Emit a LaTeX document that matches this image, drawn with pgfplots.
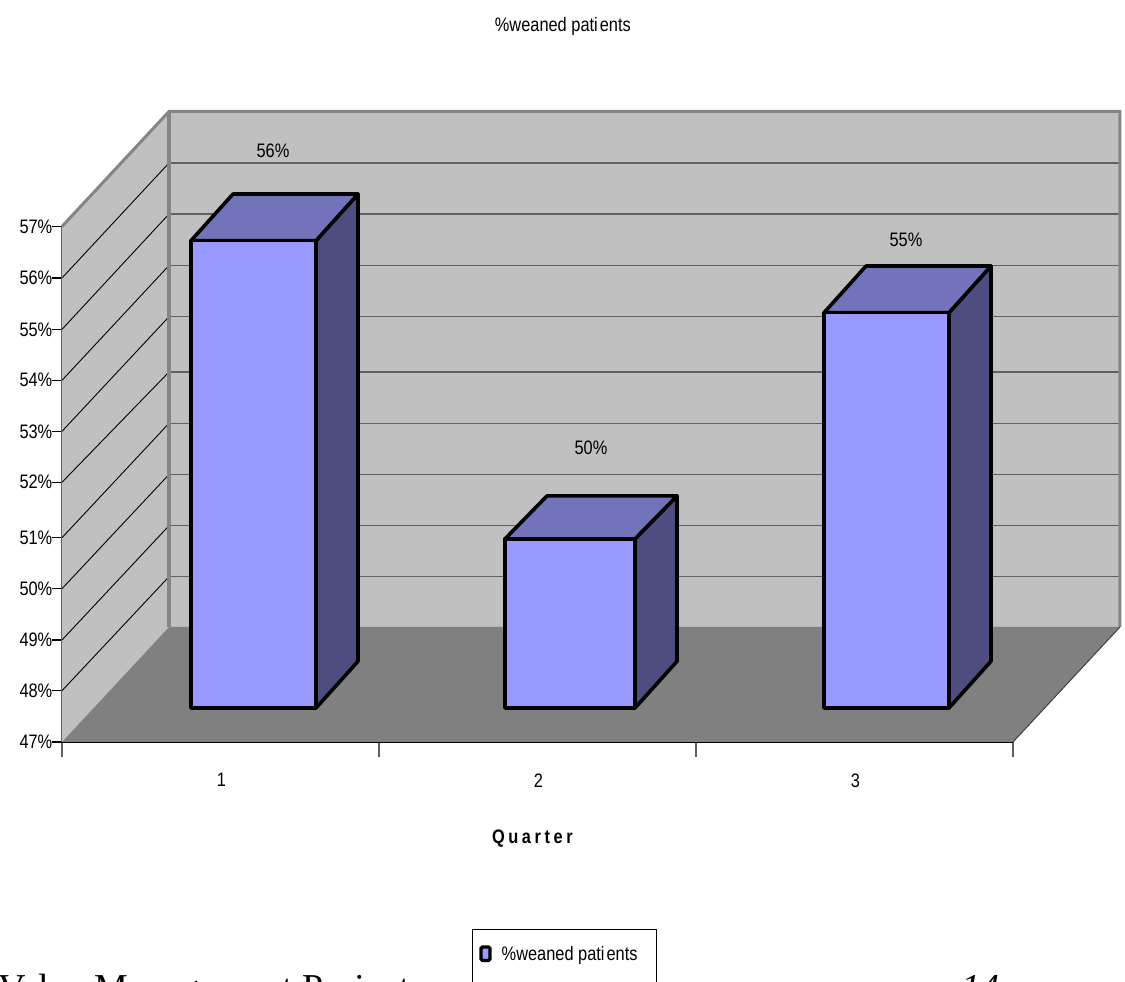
\documentclass[border=0pt]{standalone}
\usepackage{pgfplots}
\usepackage{fontspec}
\pgfplotsset{compat=1.18}
\newfontfamily\chartfont[FakeStretch=0.84]{Liberation Sans}
\newfontfamily\footfont{Liberation Serif}
\newcommand{\lab}{\chartfont\fontsize{19.5}{22}\selectfont}
\definecolor{wall}{HTML}{C0C0C0}
\definecolor{floorgrey}{HTML}{808080}
\definecolor{edgegrey}{HTML}{858585}
\definecolor{gridgrey}{HTML}{606060}
\definecolor{barfront}{HTML}{9999FF}
\definecolor{bartop}{HTML}{7373BB}
\definecolor{barside}{HTML}{4D4D80}
% depth of a column, in axis units
\newcommand{\depx}{0.1325}
\newcommand{\depy}{0.905}
% columns stand on this level in the front plane
\newcommand{\barbase}{47.66}
% one column: left edge, right edge, value, depth of its top face
\newcommand{\column}[4]{%
  \pgfmathsetmacro\ytop{#3+\barbase-47}%
  \pgfmathsetmacro\xla{#1+\depx}%
  \pgfmathsetmacro\xra{#2+\depx}%
  \pgfmathsetmacro\ytopb{\ytop+#4}%
  \pgfmathsetmacro\ybotb{\barbase+\depy}%
  \addplot[forget plot,fill=barside,draw=black,line width=3.6pt,line join=round]
    coordinates {(#2,\barbase)(\xra,\ybotb)(\xra,\ytopb)(#2,\ytop)} --cycle;
  \addplot[forget plot,fill=bartop,draw=black,line width=3.6pt,line join=round]
    coordinates {(#1,\ytop)(\xla,\ytopb)(\xra,\ytopb)(#2,\ytop)} --cycle;
  \addplot[forget plot,fill=barfront,draw=black,line width=3.6pt,line join=round]
    coordinates {(#1,\barbase)(#1,\ytop)(#2,\ytop)(#2,\barbase)} --cycle;
}
% one level of the scale: height at the front edge, height on the back wall
\newcommand{\level}[2]{%
  \addplot[forget plot,draw=gridgrey,line width=1.5pt] coordinates {(0.8375,#2)(3.8375,#2)};
  \addplot[forget plot,draw=black,line width=0.9pt] coordinates {(0.5,#1)(0.8375,#2)};
}
\begin{document}
\begin{tikzpicture}[x=1pt,y=1pt]
\clip[use as bounding box] (0,0) rectangle (1125,982);
\begin{axis}[
  at={(62pt,240pt)},anchor=south west,
  scale only axis,width=951pt,height=515.5pt,
  xmin=0.5,xmax=3.5,ymin=47,ymax=57,
  clip=false,
  axis x line=bottom,axis y line=left,
  axis line style={-,line width=1.3pt},
  x axis line style={draw=black},
  y axis line style={draw=gridgrey,line width=2.4pt},
  tick align=outside,
  xtick={1,2,3},xticklabels={1,2,3},
  minor xtick={0.5,1.5,2.5,3.5},
  major x tick style={draw=none},
  minor x tick style={draw=gridgrey,line width=1.5pt},
  minor tick length=15pt,
  major tick length=10pt,
  ytick={47,47.995,48.979,49.974,50.963,52.038,53.027,54.016,55.005,56.001,57},
  yticklabels={47\%,48\%,49\%,50\%,51\%,52\%,53\%,54\%,55\%,56\%,57\%},
  y tick style={draw=black,line width=1.2pt},
  tick label style={font=\lab},
  y tick label style={inner xsep=0.5pt,xshift=1pt},
  x tick label style={yshift=-18pt,xshift=1pt},
  title={\%weaned pati\kern2pt ents},
  title style={at={(axis cs:2.08,60.657)},anchor=base,font=\lab,inner sep=0pt},
  xlabel={\bfseries Q\kern3.6pt u\kern3.6pt a\kern3.6pt r\kern3.6pt t\kern3.6pt e\kern3.6pt r},
  xlabel style={at={(axis cs:1.984,45.12)},anchor=center,font=\lab,inner sep=0pt},
  legend style={at={(axis cs:1.7924,43.37)},anchor=north west,draw=black,line width=1.2pt,
    inner xsep=7pt,inner ysep=15pt,font=\lab,legend cell align=left},
]
% back wall, side wall and floor
\addplot[forget plot,fill=wall,draw=none] coordinates {(0.8375,49.231)(0.8375,59.231)(3.8375,59.231)(3.8375,49.231)} --cycle;
\addplot[forget plot,fill=wall,draw=none] coordinates {(0.5,47)(0.5,57)(0.8375,59.231)(0.8375,49.231)} --cycle;
\addplot[forget plot,fill=floorgrey,draw=none] coordinates {(0.5,47)(3.5,47)(3.8375,49.231)(0.8375,49.231)} --cycle;
% horizontal lines on the back wall, slanted ones on the side wall
\level{47.995}{50.207}
\level{48.979}{51.196}
\level{49.974}{52.189}
\level{50.963}{53.182}
\level{52.038}{54.177}
\level{53.027}{55.250}
\level{54.016}{56.243}
\level{55.005}{57.242}
\level{56.001}{58.232}
% wall outlines
\addplot[forget plot,draw=edgegrey,line width=3pt,line join=miter] coordinates {(0.5,57)(0.8375,59.231)(3.8375,59.231)(3.8375,49.231)};
\addplot[forget plot,draw=edgegrey,line width=3.5pt] coordinates {(0.8375,59.231)(0.8375,49.231)};
\addplot[forget plot,draw=black!75,line width=1pt] coordinates {(3.5,47)(3.8375,49.231)};
% columns
\column{0.9069}{1.3013}{56.065}{0.905}
\column{1.8975}{2.3076}{50.280}{0.834}
\column{2.9038}{3.298}{54.668}{0.905}
% value labels above the columns
\addplot[forget plot,draw=none,mark=none,point meta=explicit symbolic,nodes near coords,
  every node near coord/.append style={anchor=center,font=\lab,inner sep=0pt}]
  table[meta=label] {
  x      y       label
  1.1656 58.465  56\%
  2.1688 52.703  50\%
  3.1625 56.738  55\%
};
\addlegendimage{legend image code/.code={
  \draw[black,line width=3.4pt,fill=barfront,rounded corners=1.5pt] (0pt,-6pt) rectangle (9pt,7.5pt);}}
\addlegendentry{\kern8pt\%weaned pati\kern2pt ents\kern10pt}
% an empty row carries the legend frame past the lower edge
\addlegendimage{empty legend}
\addlegendentry{}
\end{axis}
% running footer of the page, cut by the lower edge
\node[anchor=base west,inner sep=0pt,font=\footfont\fontsize{38}{40}\selectfont] at (-2,-19) {Value Management Project};
\node[anchor=base west,inner sep=0pt,font=\footfont\itshape\fontsize{38}{40}\selectfont] at (961,-19) {14};
\end{tikzpicture}
\end{document}
